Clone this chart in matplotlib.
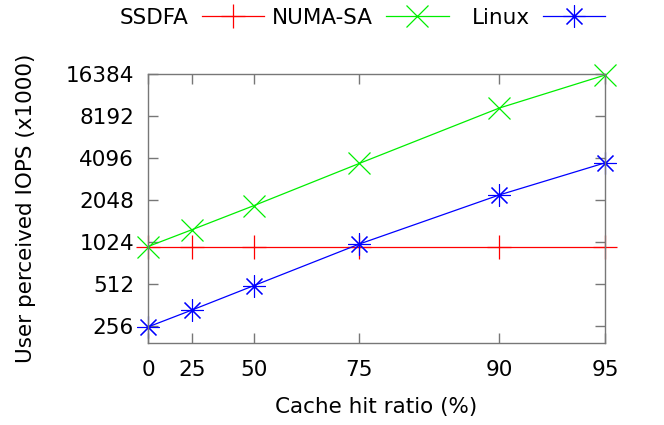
import numpy as np
import matplotlib
matplotlib.use("Agg")
import matplotlib.pyplot as plt
from matplotlib.ticker import FixedLocator, FixedFormatter, NullLocator

# cache hit ratio (%) and user perceived IOPS (x1000)
hit_ratio = [0, 25, 50, 75, 90, 95]
ssdfa = [950, 950, 950, 950, 950, 950]
numa_sa = [950, 1254, 1865, 3750, 9340, 16100]
linux = [252, 333, 498, 991, 2225, 3780]
yticks = [256, 512, 1024, 2048, 4096, 8192, 16384]

plt.rcParams['font.family'] = 'DejaVu Sans'
plt.rcParams['font.size'] = 15.5

# x axis is drawn as log2(1 / (1 - hit)) like the original
def xpos(h):
    return -np.log2(1 - np.asarray(h) / 100.0)

fig = plt.figure(figsize=(6.64, 4.25), dpi=100)
ax = fig.add_axes([148 / 664, 1 - 343 / 425, (605 - 148) / 664, (343 - 74) / 425])

x = xpos(hit_ratio)
l1, = ax.plot(x, ssdfa, color='#ff0000', lw=0.9, marker='+', ms=17, mew=0.9,
              label='SSDFA', clip_on=False)
l2, = ax.plot(x, numa_sa, color='#00ee00', lw=0.9, marker='x', ms=16, mew=0.9,
              label='NUMA-SA', clip_on=False)
l3, = ax.plot(x, linux, color='#0000ff', lw=0.9, marker=(8, 2, 0), ms=16, mew=0.8,
              label='Linux', clip_on=False)

ax.set_yscale('log', base=2)
ax.set_xlim(0, xpos(95))
ax.set_ylim(2 ** 7.595, 16384)
ax.yaxis.set_major_locator(FixedLocator(yticks))
ax.yaxis.set_major_formatter(FixedFormatter([str(v) for v in yticks]))
ax.yaxis.set_minor_locator(NullLocator())
ax.set_xticks(x)
ax.set_xticklabels([str(v) for v in hit_ratio])

for s in ax.spines.values():
    s.set_color('#777777')
    s.set_linewidth(1)
ax.tick_params(direction='in', length=7, width=1, color='#777777',
               top=True, right=True)
ax.tick_params(axis='x', pad=12.5)
ax.tick_params(axis='y', pad=10)

ax.set_xlabel('Cache hit ratio (%)')
ax.set_ylabel('User perceived IOPS (x1000)')
ax.xaxis.set_label_coords(0.5, -0.2)
ax.yaxis.set_label_coords(-0.245, 0.5)

ky = 1 - 18 / 425
kw = dict(frameon=False, markerfirst=False, handlelength=2.9, handletextpad=0.6,
          borderpad=0, borderaxespad=0, bbox_transform=fig.transFigure)
leg1 = ax.legend(handles=[l1, l2], ncol=2, columnspacing=0.37, loc='center left',
                 bbox_to_anchor=(120 / 664, ky), **kw)
ax.add_artist(leg1)
ax.legend(handles=[l3], loc='center right', bbox_to_anchor=(605 / 664, ky), **kw)

fig.savefig('out.png', dpi=100)
